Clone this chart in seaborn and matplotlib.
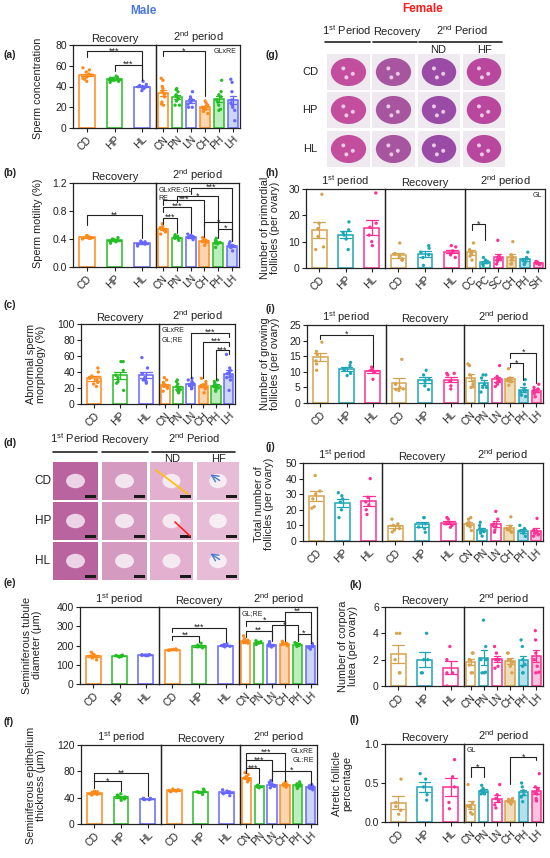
import numpy as np
import pandas as pd
import matplotlib
matplotlib.use("Agg")
import matplotlib.pyplot as plt
import seaborn as sns
from matplotlib.patches import Rectangle, Ellipse

sns.set_theme(style="ticks")
plt.rcParams["font.family"] = ["Liberation Sans", "DejaVu Sans"]
plt.rcParams["mathtext.fontset"] = "custom"
plt.rcParams["mathtext.rm"] = "Liberation Sans"
plt.rcParams["mathtext.it"] = "Liberation Sans:italic"
plt.rcParams["mathtext.bf"] = "Liberation Sans:bold"
np.random.seed(7)

# ---------------- data ----------------
G3 = ["CD", "HP", "HL"]
G6 = ["CN", "PN", "LN", "CH", "PH", "LH"]
G6_PRIM = ["CC", "PC", "SC", "CH", "PH", "SH"]

T1 = "1$^{\\mathrm{st}}$ period"
TR = "Recovery"
T2 = "2$^{\\mathrm{nd}}$ period"

MALE = ["#FF8A1C", "#25BE25", "#6767FF"]
MALE_LIGHT = ["#FDD5B0", "#BDEDBD", "#CCD7F8"]
FEMALE = ["#D6A24E", "#1CA6B6", "#FF2F95"]
FEMALE_LIGHT = ["#EEDDB8", "#B8E0EC", "#FAC4DE"]

sperm_conc_rec = [[58, 56, 54, 52, 51, 50, 49, 48, 47, 45],
                  [50, 49, 48, 48, 47, 47, 46, 46, 45, 44],
                  [45, 42, 41, 40, 40, 40, 39, 39, 38, 36]]
sperm_conc_2nd = [[48, 46, 40, 38, 35, 33, 30, 25, 22, 23],
                  [38, 37, 35, 32, 30, 28, 26, 22, 22],
                  [35, 30, 28, 27, 26, 25, 23, 20, 20],
                  [26, 24, 22, 21, 20, 19, 18, 16, 14],
                  [46, 35, 32, 30, 27, 25, 22, 18, 17],
                  [47, 44, 35, 27, 24, 22, 20, 17, 7]]

sperm_mot_rec = [[0.45, 0.44, 0.43, 0.42, 0.42, 0.41, 0.41, 0.40],
                 [0.42, 0.40, 0.39, 0.38, 0.38, 0.37, 0.36, 0.34],
                 [0.37, 0.36, 0.35, 0.34, 0.34, 0.33, 0.33, 0.30]]
sperm_mot_2nd = [[0.62, 0.58, 0.56, 0.54, 0.53, 0.52, 0.50, 0.47],
                 [0.46, 0.44, 0.43, 0.42, 0.42, 0.41, 0.40, 0.38],
                 [0.47, 0.45, 0.44, 0.43, 0.43, 0.42, 0.41, 0.39],
                 [0.42, 0.40, 0.38, 0.37, 0.37, 0.36, 0.35, 0.31],
                 [0.41, 0.38, 0.36, 0.35, 0.35, 0.34, 0.33, 0.28],
                 [0.36, 0.33, 0.31, 0.30, 0.30, 0.29, 0.28, 0.23]]

abn_morph_rec = [[45, 40, 35, 32, 30, 27, 25, 22],
                 [53, 53, 42, 36, 33, 28, 26, 17],
                 [58, 45, 38, 33, 30, 30, 28, 26]]
abn_morph_2nd = [[33, 30, 27, 25, 24, 23, 22, 20, 20, 16],
                 [30, 28, 25, 22, 20, 18, 17, 15, 14],
                 [32, 30, 28, 26, 25, 23, 22, 20, 19],
                 [32, 28, 25, 24, 23, 22, 20, 19, 14],
                 [30, 28, 26, 24, 23, 22, 20, 18, 16],
                 [62, 45, 42, 40, 38, 35, 33, 30, 17]]

tub_diam_1st = [[165, 155, 150, 145, 140, 135, 125],
                [150, 148, 146, 145, 144, 142, 140],
                [153, 152, 151, 150, 149, 148, 147]]
tub_diam_rec = [[182, 180, 178, 177, 176, 175],
                [212, 202, 198, 195, 193, 188],
                [208, 205, 200, 198, 196, 193]]
tub_diam_2nd = [[250, 235, 228, 225, 220, 215, 212, 215],
                [225, 220, 217, 215, 213, 210, 205],
                [220, 212, 208, 205, 200, 198, 192],
                [222, 215, 212, 210, 207, 205, 199],
                [215, 210, 207, 205, 203, 200, 195],
                [210, 202, 197, 195, 192, 188, 181]]

epi_thick_1st = [[50, 49, 48, 47, 46, 45, 44],
                 [46, 44, 42, 41, 40, 38, 36],
                 [39, 39, 38, 38, 38, 37, 37]]
epi_thick_rec = [[53, 52, 51, 51, 50, 49],
                 [53, 51, 49, 48, 48, 45],
                 [52, 50, 49, 48, 46, 43]]
epi_thick_2nd = [[78, 75, 72, 70, 68, 66, 64, 67],
                 [59, 58, 58, 57, 56, 56, 55],
                 [66, 63, 61, 60, 58, 57, 55],
                 [64, 62, 61, 60, 59, 58, 56],
                 [64, 61, 60, 59, 58, 57, 54],
                 [60, 58, 57, 56, 55, 54, 52]]

prim_1st = [[28, 17, 15, 12, 8, 7],
            [17.5, 14.5, 13.5, 12.5, 11, 7],
            [28.5, 17, 15.5, 12.5, 10, 8.5]]
prim_rec = [[9.5, 5.5, 4.5, 3.5, 3, 3],
            [8.5, 7.5, 6, 5, 4, 1],
            [8.5, 8, 6.5, 5.5, 5, 4]]
prim_2nd = [[9.5, 7, 6.5, 5.5, 4.5, 3],
            [4, 3, 2.5, 2, 1.5, 1],
            [10.5, 4.5, 4, 3, 2.5, 1.5, 3.5],
            [10, 5, 4, 3.5, 3, 1.5, 1.7],
            [6, 4, 3.5, 3, 2, 1.3],
            [2.5, 2.2, 2, 1.8, 1.6, 1.3]]

grow_1st = [[19.5, 16.5, 15.5, 13.5, 12.5, 10.5],
            [13, 12, 11, 10.5, 9.5, 8.8],
            [11.5, 11, 10.5, 10, 10, 7.6]]
grow_rec = [[14, 6, 5, 4.5, 4.3, 4],
            [10.5, 9, 7.5, 7, 5.5, 4.3],
            [9.5, 9.5, 9, 7, 5.5, 4.5]]
grow_2nd = [[12.5, 12, 9, 7, 6, 5, 5.2],
            [9, 9, 8, 6, 5, 3.5, 5],
            [12, 8.5, 8, 7.5, 7, 6.5, 6, 5.3],
            [11, 8, 7.5, 7.2, 7, 6.8, 5.7],
            [7.5, 6, 4.5, 4, 3.5, 2.5, 2.1],
            [6, 5, 4.5, 4, 3.5, 3, 2]]

total_1st = [[42, 32, 30, 27, 22, 21],
             [31, 29, 27, 25, 20, 15],
             [40, 28, 25, 23, 20, 17]]
total_rec = [[14, 11, 10, 8, 7, 5.8],
             [15, 15, 11, 9, 8, 5.6],
             [15, 14, 12, 11, 10, 8.8]]
total_2nd = [[15, 14, 12, 11, 10, 9, 6.7],
             [12, 10, 8, 7, 6, 5, 3.1],
             [19, 14, 11, 10, 9, 7, 5.6],
             [15.5, 9.5, 8, 7, 6, 5.6],
             [10, 8, 6.5, 6, 5, 3],
             [14.5, 7, 6, 5, 4, 3.1]]

cl_rec = [[4, 4, 2, 1, 1],
          [4, 2, 2, 1, 1],
          [3, 2, 1, 1, 0]]
cl_2nd = [[2.5, 2.5, 2, 2, 1, 1, 1.6],
          [5, 3, 2, 2, 1, 1, 1.05],
          [3, 2.5, 2, 2, 2, 1.5, 1.35],
          [2.5, 2.5, 2, 2, 1.5, 1, 1.8],
          [3.5, 3, 2, 1.5, 1, 1, 1.65],
          [4.2, 3.5, 2.5, 2, 1.5, 1, 1.05]]

atr_rec = [[0.55, 0.25, 0.2, 0.15, 0.1],
           [0.62, 0.55, 0.45, 0.35, 0.28],
           [0.8, 0.58, 0.45, 0.25, 0.17]]
atr_2nd = [[0.48, 0.25, 0.2, 0.18, 0.12, 0.1, 0.21],
           [0.47, 0.43, 0.4, 0.38, 0.36, 0.36],
           [0.48, 0.35, 0.3, 0.27, 0.22, 0.18],
           [0.3, 0.29, 0.28, 0.27, 0.25, 0.23],
           [0.5, 0.45, 0.4, 0.35, 0.32, 0.26],
           [0.62, 0.45, 0.42, 0.38, 0.3, 0.27, 0.36]]

# ---------------- figure ----------------
W, H = 550, 858
fig = plt.figure(figsize=(W / 100, H / 100), dpi=100)
ov = fig.add_axes([0, 0, 1, 1])
ov.set_xlim(0, W)
ov.set_ylim(H, 0)
ov.axis("off")

INK = "#222222"


def draw_section(box, title, labels, values, cols, light, ylim, yticks, first,
                 brackets=(), note=None):
    l, t, r, b = box
    ax = fig.add_axes([l / W, 1 - b / H, (r - l) / W, (b - t) / H])
    df = pd.DataFrame({"g": np.repeat(labels, [len(v) for v in values]),
                       "v": np.concatenate([np.asarray(v, float) for v in values])})
    n = len(labels)
    colors = [cols[k % 3] for k in range(n)]
    pal = dict(zip(labels, colors))
    w = 0.56 if n == 3 else 0.72
    sns.barplot(data=df, x="g", y="v", hue="g", order=labels, hue_order=labels,
                palette=pal, errorbar="se", capsize=0.45, fill=False, width=w,
                linewidth=1.1, err_kws={"linewidth": 0.9}, legend=False, ax=ax)
    for k, p in enumerate(ax.patches):
        p.set_facecolor(light[k % 3] if k >= 3 else "white")
        p.set_edgecolor(colors[k])
    sns.stripplot(data=df, x="g", y="v", hue="g", order=labels, hue_order=labels,
                  palette=pal, size=2.4, jitter=w * 0.3, linewidth=0,
                  legend=False, ax=ax, zorder=4)
    ax.set_xlim(-0.5, n - 0.5)
    ax.set_ylim(*ylim)
    ax.set_yticks(yticks)
    ax.set_xlabel("")
    ax.set_ylabel("")
    ax.set_facecolor("none")
    for s in ax.spines.values():
        s.set_visible(True)
        s.set_linewidth(0.9)
        s.set_color(INK)
    ax.tick_params(axis="both", direction="out", length=3, width=0.8,
                   colors=INK, labelsize=7.5, pad=1.5)
    ax.set_xticks(range(n))
    ax.set_xticklabels(labels, rotation=45, ha="right", va="top",
                       rotation_mode="anchor", fontsize=7.5)
    if not first:
        ax.tick_params(axis="y", left=False, labelleft=False)
    ax.set_title(title, fontsize=8, pad=2.5, color=INK)
    for (i, j, y, txt, yl, yr) in brackets:
        ax.plot([i, i, j, j], [yl, y, y, yr], color=INK, lw=0.8,
                clip_on=False, zorder=5)
        ax.annotate(txt, xy=((i + j) / 2, y), xytext=(0, -1.6),
                    textcoords="offset points", ha="center", va="baseline",
                    fontsize=6.5, color=INK, annotation_clip=False)
    if note is not None:
        lines, loc = note
        for k, txt in enumerate(lines):
            if loc == "tr":
                ax.annotate(txt, xy=(0.96, 0.96), xycoords="axes fraction",
                            xytext=(0, -6.5 * k), textcoords="offset points",
                            ha="right", va="top", fontsize=5.0, color=INK)
            else:
                ax.annotate(txt, xy=(0.03, 0.96), xycoords="axes fraction",
                            xytext=(0, -6.5 * k), textcoords="offset points",
                            ha="left", va="top", fontsize=5.0, color=INK)
    return ax


def draw_panel(sections, cols, light, ylim, yticks):
    for k, sec in enumerate(sections):
        title, labels, values, box = sec[:4]
        brackets = sec[4] if len(sec) > 4 else ()
        note = sec[5] if len(sec) > 5 else None
        draw_section(box, title, labels, values, cols, light, ylim, yticks,
                     k == 0, brackets, note)


# (a)
draw_panel([
    (TR, G3, sperm_conc_rec, (73, 45, 156, 128),
     [(0, 2, 74, "***", 68, 46), (1, 2, 61, "***", 55, 46)]),
    (T2, G6, sperm_conc_2nd, (156, 45, 240, 128),
     [(0, 3, 74, "*", 69, 31)], (["GLxRE"], "tr")),
], MALE, MALE_LIGHT, (0, 80), [0, 20, 40, 60, 80])

# (b)
draw_panel([
    (TR, G3, sperm_mot_rec, (73, 183, 156, 267),
     [(0, 2, 0.74, "**", 0.60, 0.41)]),
    (T2, G6, sperm_mot_2nd, (156, 183, 239, 267),
     [(0, 1, 0.70, "***", 0.62, 0.48), (0, 2, 0.86, "***", 0.78, 0.48),
      (0, 3, 0.96, "***", 0.88, 0.43), (1, 4, 1.01, "*", 0.93, 0.42),
      (2, 5, 1.13, "***", 1.05, 0.37), (3, 5, 0.64, "*", 0.58, 0.37),
      (4, 5, 0.55, "*", 0.50, 0.37)], (["GLxRE;GL", "RE"], "tl")),
], MALE, MALE_LIGHT, (0, 1.2), [0.0, 0.4, 0.8, 1.2])

# (c)
draw_panel([
    (TR, G3, abn_morph_rec, (81, 324, 159, 404)),
    (T2, G6, abn_morph_2nd, (159, 324, 235, 404),
     [(2, 5, 89, "***", 33, 84), (3, 5, 78, "***", 32, 73),
      (4, 5, 67, "***", 30, 62)], (["GLxRE", "GL;RE"], "tl")),
], MALE, MALE_LIGHT, (0, 100), [0, 20, 40, 60, 80, 100])

# (e)
draw_panel([
    (T1, G3, tub_diam_1st, (80, 607, 159, 684)),
    (TR, G3, tub_diam_rec, (159, 607, 239, 684),
     [(0, 1, 250, "**", 228, 216), (0, 2, 292, "***", 271, 216)]),
    (T2, G6, tub_diam_2nd, (239, 607, 317, 684),
     [(0, 2, 277, "**", 245, 225), (0, 3, 329, "*", 300, 225),
      (3, 5, 376, "**", 232, 215), (2, 4, 306, "*", 226, 222),
      (4, 5, 262, "*", 225, 215)], (["GL;RE"], "tl")),
], MALE, MALE_LIGHT, (0, 400), [0, 100, 200, 300, 400])

# (f)
draw_panel([
    (T1, G3, epi_thick_1st, (81, 745, 161, 824),
     [(0, 2, 77, "**", 65, 42), (0, 1, 65, "*", 55, 50)]),
    (TR, G3, epi_thick_rec, (161, 745, 240, 824)),
    (T2, G6, epi_thick_2nd, (240, 745, 317, 824),
     [(0, 1, 85, "***", 78, 62), (0, 2, 97, "***", 78, 66),
      (0, 3, 108, "***", 78, 66), (2, 5, 81, "*", 70, 60)],
     (["GLxRE", "GL:RE"], "tr")),
], MALE, MALE_LIGHT, (0, 120), [0, 40, 80, 120])

# (h)
draw_panel([
    (T1, G3, prim_1st, (306, 189, 385, 268)),
    (TR, G3, prim_rec, (385, 189, 465, 268)),
    (T2, G6_PRIM, prim_2nd, (465, 189, 545, 268),
     [(0, 1, 16.6, "*", 14.5, 10.5)], (["GL"], "tr")),
], FEMALE, FEMALE_LIGHT, (0, 30), [0, 10, 20, 30])

# (i)
draw_panel([
    (T1, G3, grow_1st, (307, 325, 386, 403),
     [(0, 2, 21.8, "*", 20.5, 11.6)]),
    (TR, G3, grow_rec, (386, 325, 464, 403)),
    (T2, G6, grow_2nd, (464, 325, 543, 403),
     [(3, 5, 16.1, "*", 14.4, 6.5), (3, 4, 12.7, "*", 11.6, 7.5)]),
], FEMALE, FEMALE_LIGHT, (0, 25), [0, 5, 10, 15, 20, 25])

# (j)
draw_panel([
    (T1, G3, total_1st, (303, 463, 382, 541)),
    (TR, G3, total_rec, (382, 463, 462, 541)),
    (T2, G6, total_2nd, (462, 463, 543, 541)),
], FEMALE, FEMALE_LIGHT, (0, 50), [0, 10, 20, 30, 40, 50])

# (k)
draw_panel([
    (TR, G3, cl_rec, (385, 607, 464, 686)),
    (T2, G6, cl_2nd, (464, 607, 543, 686)),
], FEMALE, FEMALE_LIGHT, (0, 6), [0, 2, 4, 6])

# (l)
draw_panel([
    (TR, G3, atr_rec, (385, 744, 464, 822)),
    (T2, G6, atr_2nd, (464, 744, 543, 822),
     [(0, 1, 0.70, "*", 0.58, 0.58), (3, 5, 0.83, "*", 0.49, 0.79)],
     (["GL"], "tl")),
], FEMALE, FEMALE_LIGHT, (0, 1.0), [0.0, 0.5, 1.0])

# ---------------- text on overlay ----------------
ov.text(143, 11, "Male", color="#4A78E0", fontsize=8.5, fontweight="bold",
        ha="center", va="center")
ov.text(423, 9, "Female", color="#FF1A1A", fontsize=8.5, fontweight="bold",
        ha="center", va="center")

for lab, x, y in [("(a)", 4, 55), ("(b)", 4, 173), ("(c)", 4, 305),
                  ("(d)", 4, 443), ("(e)", 4, 583), ("(f)", 4, 722),
                  ("(g)", 266, 55), ("(h)", 266, 173), ("(i)", 266, 309),
                  ("(j)", 266, 447), ("(k)", 350, 585), ("(l)", 350, 720)]:
    ov.text(x, y, lab, fontsize=7.5, fontweight="bold", ha="left",
            va="center", color=INK)

for txt, x, y in [("Sperm concentration", 38, 88),
                  ("Sperm motility (%)", 38, 223),
                  ("Abnormal sperm\nmorphology (%)", 36, 364),
                  ("Seminiferous tubule\ndiameter (μm)", 32, 645),
                  ("Seminiferous epithelium\nthickness (μm)", 36, 785),
                  ("Number of primordial\nfollicles (per ovary)", 270, 228),
                  ("Number of growing\nfollicles (per ovary)", 270, 364),
                  ("Total number of\nfollicles (per ovary)", 264, 504),
                  ("Number of corpora\nlutea (per ovary)", 348, 646),
                  ("Atretic follicle\npercentage", 342, 783)]:
    ov.text(x, y, txt, rotation=90, ha="center", va="center",
            fontsize=7.8, color=INK, linespacing=1.05)


# ---------------- histology placeholders ----------------
def testis_tile(x0, y0, x1, y1, base, lumen):
    ov.add_patch(Rectangle((x0, y0), x1 - x0, y1 - y0, fc=base, ec="none"))
    ov.add_patch(Ellipse(((x0 + x1) / 2, (y0 + y1) / 2), (x1 - x0) * 0.42,
                         (y1 - y0) * 0.38, fc=lumen, ec="none"))
    ov.add_patch(Rectangle((x1 - 13, y1 - 5), 11, 3, fc="#1A1A1A", ec="none"))


def ovary_tile(x0, y0, x1, y1, tissue):
    ov.add_patch(Rectangle((x0, y0), x1 - x0, y1 - y0, fc="#EEEAF0", ec="none"))
    ov.add_patch(Ellipse(((x0 + x1) / 2, (y0 + y1) / 2), (x1 - x0) * 0.82,
                         (y1 - y0) * 0.78, fc=tissue, ec="none"))
    for fx, fy in [(0.38, 0.4), (0.6, 0.55), (0.45, 0.65)]:
        ov.add_patch(Ellipse((x0 + fx * (x1 - x0), y0 + fy * (y1 - y0)), 4, 4,
                             fc="#E9C8E2", ec="none"))


# (d)
d_cols = [(53, 98), (102, 147), (150, 193), (197, 239)]
d_rows = [(462, 500), (502, 540), (542, 580)]
d_base = [("#B9649F", "#EBD3E5"), ("#D49ABF", "#F4E6F0"),
          ("#E3B1CF", "#F6EAF2"), ("#E6BCD6", "#F7EEF4")]
for r, (y0, y1) in enumerate(d_rows):
    for c, (x0, x1) in enumerate(d_cols):
        testis_tile(x0, y0, x1, y1, *d_base[c])
ov.plot([156, 188], [470, 494], color="#FFC000", lw=1.2)
ov.plot([175, 190], [522, 536], color="#FF2020", lw=1.2)
ov.annotate("", xy=(208, 473), xytext=(222, 482),
            arrowprops=dict(arrowstyle="->", color="#4A7BD0", lw=1))
ov.annotate("", xy=(208, 552), xytext=(222, 561),
            arrowprops=dict(arrowstyle="->", color="#4A7BD0", lw=1))
for txt, x in [("1$^{\\mathrm{st}}$ Period", 75), ("Recovery", 125),
               ("2$^{\\mathrm{nd}}$ Period", 194)]:
    ov.text(x, 445, txt, ha="center", va="bottom", fontsize=8, color=INK)
for x0, x1 in [(53, 97), (102, 148), (152, 235)]:
    ov.plot([x0, x1], [452, 452], color=INK, lw=1.2)
ov.text(172, 459, "ND", ha="center", va="center", fontsize=8, color=INK)
ov.text(218, 459, "HF", ha="center", va="center", fontsize=8, color=INK)
for txt, y in [("CD", 481), ("HP", 521), ("HL", 561)]:
    ov.text(43, y, txt, ha="center", va="center", fontsize=8.5, color=INK)

# (g)
g_cols = [(327, 370), (372, 415), (418, 460), (463, 505)]
g_rows = [(54, 90), (92, 128), (131, 167)]
g_tissue = ["#C44E9E", "#A7559F", "#9A4BA6", "#B9479D"]
for r, (y0, y1) in enumerate(g_rows):
    for c, (x0, x1) in enumerate(g_cols):
        ovary_tile(x0, y0, x1, y1, g_tissue[c])
for txt, x in [("1$^{\\mathrm{st}}$ Period", 347), ("Recovery", 397),
               ("2$^{\\mathrm{nd}}$ Period", 462)]:
    ov.text(x, 37, txt, ha="center", va="bottom", fontsize=8, color=INK)
for x0, x1 in [(325, 370), (373, 417), (419, 502)]:
    ov.plot([x0, x1], [42, 42], color=INK, lw=1.2)
ov.text(438, 50, "ND", ha="center", va="center", fontsize=8, color=INK)
ov.text(485, 50, "HF", ha="center", va="center", fontsize=8, color=INK)
for txt, y in [("CD", 72), ("HP", 110), ("HL", 149)]:
    ov.text(310, y, txt, ha="center", va="center", fontsize=8, color=INK)

fig.savefig("out.png", dpi=100)
